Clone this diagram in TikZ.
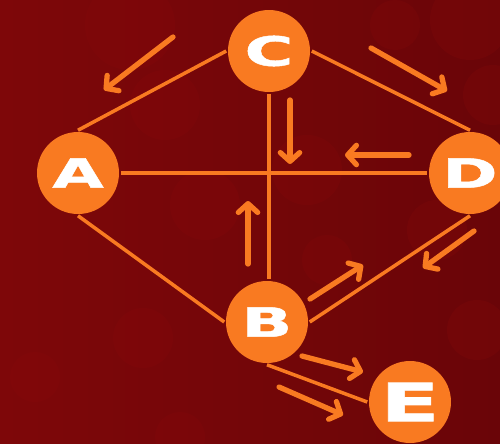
\documentclass[tikz,border=0pt]{standalone}
\usepackage{fontspec}
\usetikzlibrary{arrows.meta}
\newfontfamily\lettfont{DejaVu Sans Bold}[FakeStretch=1.65,FakeBold=1.2]
\definecolor{bgleft}{HTML}{7E0709}
\definecolor{bgright}{HTML}{6A0508}
\definecolor{blob}{HTML}{8C0A0B}
\definecolor{tangerine}{HTML}{F97A21}

\begin{document}
\begin{tikzpicture}[x=0.02cm,y=-0.02cm,line width=2pt,
		vertex/.style={circle,fill=tangerine,minimum size=1.64cm,inner sep=0pt,text=white,
			font={\lettfont\fontsize{23}{23}\selectfont}},
		edge/.style={draw=tangerine},
		flow/.style={draw=tangerine,line width=3pt,line cap=round,
			-{Straight Barb[length=5pt,width=11pt,round]}}]
			\useasboundingbox (0,0) rectangle (500,443);
			\clip (0,0) rectangle (500,443);
			% background
			\shade[left color=bgleft,right color=bgright] (0,0) rectangle (500,443);
			\foreach \x/\y/\r in {130/25/45,165/105/35,395/25/25,470/20/40,493/95/30,
				437/230/30,477/330/30,205/205/35,307/170/35,327/260/25,143/338/30,
				180/437/25,35/377/25}
				\fill[blob,opacity=0.22] (\x,\y) circle (\r);
			% vertices
			\node [vertex] (C) at (269,51) {C};
			\node [vertex] (A) at (78,173) {A};
			\node [vertex] (D) at (470,173) {D};
			\node [vertex] (B) at (267,322) {B};
			\node [vertex] (E) at (410,402) {\fontsize{30}{30}\selectfont E};
			% edges
			\draw[edge] (A.north) -- (C.west);
			\draw[edge] (C.east) -- (D.north);
			\draw[edge] (A.east) -- (D.west);
			\draw[edge] (C.south) -- (C.south |- B.north);
			\draw[edge] (A.south) -- (B.west);
			\draw[edge] (B.east) -- (D.south);
			\draw[edge] (B.south) -- (E.west);
			% flow arrows
			\draw[flow] (173,37) -- (104,90);
			\draw[flow] (371,48) -- (447,91);
			\draw[flow] (290,100) -- (290,164);
			\draw[flow] (409,155) -- (345,155);
			\draw[flow] (248,264) -- (248,201);
			\draw[flow] (474,231) -- (423,268);
			\draw[flow] (310,299) -- (363,265);
			\draw[flow] (302,356) -- (363,372);
			\draw[flow] (279,387) -- (343,415);
		\end{tikzpicture}
\end{document}
